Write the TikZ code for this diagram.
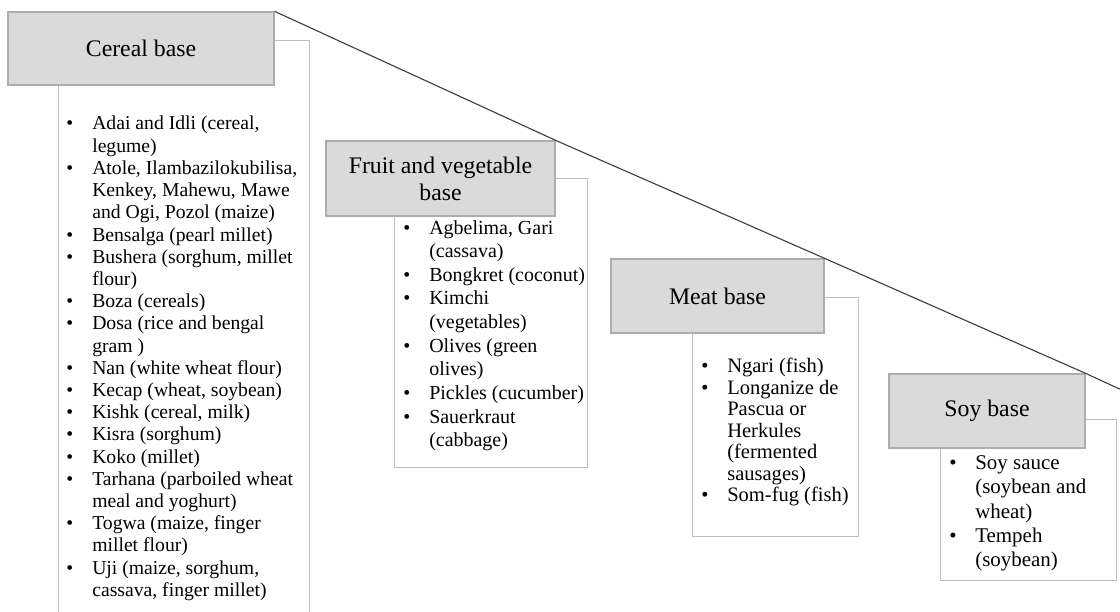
\documentclass[tikz,border=0pt]{standalone}
\usepackage{fontspec}
\setmainfont{Liberation Serif}
\usepackage{xcolor}
\definecolor{hdrfill}{HTML}{DADADA}
\definecolor{hdrline}{HTML}{ADADAD}
\definecolor{lstline}{HTML}{BFBFBF}
\definecolor{stepline}{HTML}{404040}
\newcommand{\itembul}{\makebox[0.65cm][l]{\textbullet}}
\newcommand{\itemind}{\hspace*{0.65cm}}

\begin{document}
\begin{tikzpicture}[
		hdr/.style={shape=rectangle, draw=hdrline, fill=hdrfill, line width=0.9pt, align=center, inner sep=0pt, font=\fontsize{16.9}{19.2}\selectfont},
		lst/.style={shape=rectangle, draw=lstline, fill=white, line width=0.7pt, inner sep=0pt},
		txt/.style={anchor=north west, align=left, inner sep=0pt}]
			% Frame, boxes, lists and the step line:
			\path[use as bounding box, fill=white] (0, 0) rectangle (28, -15.3);
			\clip (0, 0) rectangle (28, -15.3);
			\node[lst, minimum width=6.275cm, minimum height=15.25cm](L1) at (4.5875, -8.625){};
			\node[lst, minimum width=4.825cm, minimum height=7.225cm](L2) at (12.2625, -8.0625){};
			\node[lst, minimum width=4.15cm, minimum height=5.975cm](L3) at (19.375, -10.4125){};
			\node[lst, minimum width=4.4cm, minimum height=4.025cm](L4) at (25.7, -12.4875){};
			\node[hdr, minimum width=6.65cm, minimum height=1.825cm](H1) at (3.525, -1.2125){Cereal base};
			\node[hdr, minimum width=5.725cm, minimum height=1.875cm](H2) at (11.0125, -4.4625){Fruit and vegetable\\base};
			\node[hdr, minimum width=5.325cm, minimum height=1.85cm](H3) at (17.9375, -7.4){Meat base};
			\node[hdr, minimum width=4.9cm, minimum height=1.85cm](H4) at (24.675, -10.275){Soy base};
			\coordinate (E) at (28, -9.73);
			\draw[stepline, line width=0.8pt] (H1.north east) -- (H2.north east) -- (H3.north east) -- (H4.north east) -- (E);
			\node[txt, font=\fontsize{14}{15.8}\selectfont](T1) at (1.65, -2.9){%
				\itembul Adai and Idli (cereal,\\ \itemind legume)\\
				\itembul Atole, Ilambazilokubilisa,\\ \itemind Kenkey, Mahewu, Mawe\\ \itemind and Ogi, Pozol (maize)\\
				\itembul Bensalga (pearl millet)\\
				\itembul Bushera (sorghum, millet\\ \itemind flour)\\
				\itembul Boza (cereals)\\
				\itembul Dosa (rice and bengal\\ \itemind gram )\\
				\itembul Nan (white wheat flour)\\
				\itembul Kecap (wheat, soybean)\\
				\itembul Kishk (cereal, milk)\\
				\itembul Kisra (sorghum)\\
				\itembul Koko (millet)\\
				\itembul Tarhana (parboiled wheat\\ \itemind meal and yoghurt)\\
				\itembul Togwa (maize, finger\\ \itemind millet flour)\\
				\itembul Uji (maize, sorghum,\\ \itemind cassava, finger millet)};
			\node[txt, font=\fontsize{14.2}{16.8}\selectfont](T2) at (10.075, -5.5){%
				\itembul Agbelima, Gari\\ \itemind (cassava)\\
				\itembul Bongkret (coconut)\\
				\itembul Kimchi\\ \itemind (vegetables)\\
				\itembul Olives (green\\ \itemind olives)\\
				\itembul Pickles (cucumber)\\
				\itembul Sauerkraut\\ \itemind (cabbage)};
			\node[txt, font=\fontsize{14.6}{15.3}\selectfont](T3) at (17.525, -8.95){%
				\itembul Ngari (fish)\\
				\itembul Longanize de\\ \itemind Pascua or\\ \itemind Herkules\\ \itemind (fermented\\ \itemind sausages)\\
				\itembul Som-fug (fish)};
			\node[txt, font=\fontsize{14.9}{17.2}\selectfont](T4) at (23.725, -11.3875){%
				\itembul Soy sauce\\ \itemind (soybean and\\ \itemind wheat)\\
				\itembul Tempeh\\ \itemind (soybean)};
		\end{tikzpicture}
\end{document}
